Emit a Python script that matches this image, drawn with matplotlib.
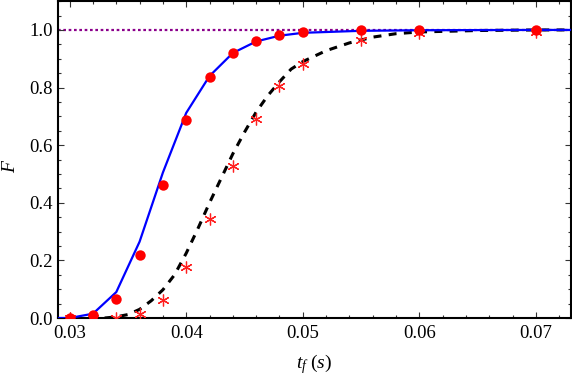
import matplotlib
matplotlib.use("Agg")
import matplotlib.pyplot as plt
from matplotlib.ticker import MultipleLocator, FormatStrFormatter

plt.rcParams['font.family'] = 'serif'
plt.rcParams['font.serif'] = ['Liberation Serif', 'DejaVu Serif']
plt.rcParams['mathtext.fontset'] = 'custom'
plt.rcParams['mathtext.rm'] = 'Liberation Serif'
plt.rcParams['mathtext.it'] = 'Liberation Serif:italic'

# Blue solid curve
blue_x = [0.029, 0.030, 0.032, 0.034, 0.036, 0.038, 0.040, 0.042, 0.044, 0.046, 0.048, 0.050, 0.055, 0.060, 0.070, 0.073]
blue_y = [0.0, 0.0, 0.015, 0.09, 0.265, 0.505, 0.712, 0.840, 0.920, 0.960, 0.980, 0.990, 0.997, 0.999, 1.0, 1.0]

# Red dots
dot_x = [0.030, 0.032, 0.034, 0.036, 0.038, 0.040, 0.042, 0.044, 0.046, 0.048, 0.050, 0.055, 0.060, 0.070]
dot_y = [0.0, 0.01, 0.066, 0.22, 0.462, 0.688, 0.838, 0.921, 0.962, 0.983, 0.992, 0.999, 1.0, 1.0]

# Black dashed curve
dash_x = [0.033, 0.034, 0.035, 0.036, 0.037, 0.038, 0.039, 0.040, 0.041, 0.042, 0.043, 0.044,
          0.045, 0.046, 0.047, 0.048, 0.049, 0.050, 0.052, 0.054, 0.056, 0.058, 0.060, 0.065,
          0.070, 0.073]
dash_y = [0.0, 0.004, 0.012, 0.03, 0.06, 0.098, 0.15, 0.225, 0.31, 0.40, 0.485, 0.57,
          0.645, 0.715, 0.772, 0.82, 0.864, 0.89, 0.928, 0.955, 0.975, 0.987, 0.993, 0.998,
          1.0, 1.0]

# Red asterisks
star_x = [0.030, 0.032, 0.034, 0.036, 0.038, 0.040, 0.042, 0.044, 0.046, 0.048, 0.050, 0.055, 0.060, 0.070]
star_y = [0.0, 0.0, 0.0, 0.014, 0.0625, 0.176, 0.344, 0.528, 0.69, 0.806, 0.882, 0.965, 0.988, 0.992]

ref_x = [0.029, 0.073]
ref_y = [1.0, 1.0]

fig = plt.figure(figsize=(5.72, 3.78), dpi=100)
ax = fig.add_axes([0.1014, 0.1587, 0.8966, 0.8383])

ax.plot(ref_x, ref_y, color='#8B008B', linestyle=(0, (1.2, 1.2)), linewidth=1.6, zorder=1)
ax.plot(dash_x, dash_y, color='black', linestyle=(0, (2.6, 2.4)), linewidth=2.2, zorder=2)
ax.plot(blue_x, blue_y, color='#0000FF', linewidth=1.6, zorder=3)
ax.plot(star_x, star_y, linestyle='none', marker=(6, 2, 0), markersize=8.5,
        markeredgecolor='#FF2020', markeredgewidth=0.9, zorder=4)
ax.plot(dot_x, dot_y, linestyle='none', marker='o', markersize=7.5,
        color='#FF0000', markeredgewidth=0, zorder=5)

ax.set_xlim(0.029, 0.073)
ax.set_ylim(0.0, 1.1)

ax.xaxis.set_major_locator(MultipleLocator(0.01))
ax.xaxis.set_minor_locator(MultipleLocator(0.002))
ax.yaxis.set_major_locator(MultipleLocator(0.2))
ax.yaxis.set_minor_locator(MultipleLocator(0.05))
ax.xaxis.set_major_formatter(FormatStrFormatter('%.2f'))
ax.yaxis.set_major_formatter(FormatStrFormatter('%.1f'))

ax.tick_params(which='both', direction='in', top=True, right=True, width=0.8, color='#333333',
               labelsize=13.5)
ax.tick_params(axis='x', which='both', pad=5)
ax.tick_params(axis='y', which='both', pad=4)
ax.tick_params(which='major', length=4.5)
ax.tick_params(which='minor', length=2.5)
for s in ax.spines.values():
    s.set_linewidth(1.5)

ax.set_xlabel(r'$t_f\ (s)$', fontsize=14, labelpad=7)
ax.set_ylabel(r'$F$', fontsize=14)
ax.yaxis.set_label_coords(-0.076, 0.48)

fig.savefig('out.png', dpi=100)
